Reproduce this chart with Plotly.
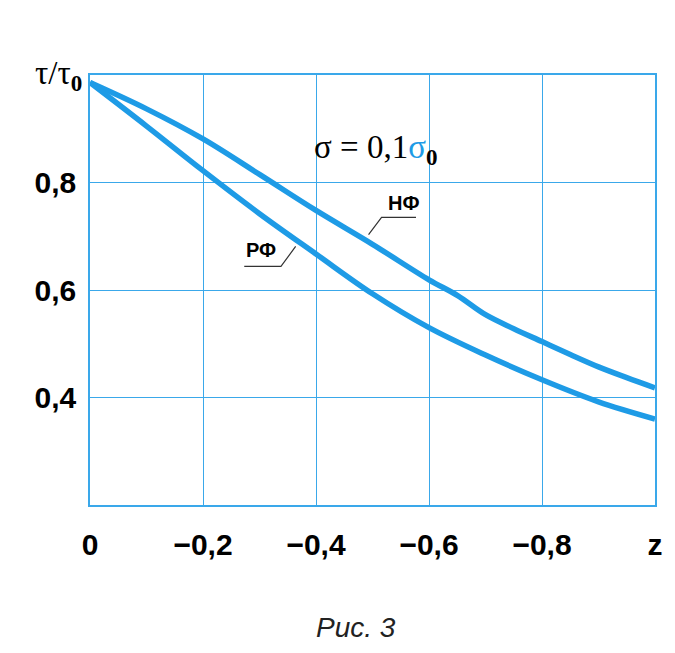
import plotly.graph_objects as go

# data
z_nf = [0, -0.1, -0.2, -0.3, -0.4, -0.5, -0.6, -0.65, -0.7, -0.75, -0.8, -0.85, -0.9, -0.95, -1.0]
nf = [0.986, 0.937, 0.881, 0.815, 0.748, 0.685, 0.619, 0.59, 0.554, 0.528, 0.504, 0.48, 0.457, 0.437, 0.418]
z_rf = [0, -0.1, -0.2, -0.3, -0.4, -0.5, -0.6, -0.7, -0.8, -0.9, -1.0]
rf = [0.986, 0.905, 0.822, 0.742, 0.667, 0.593, 0.53, 0.479, 0.433, 0.392, 0.36]

x_tickvals = [0, -0.2, -0.4, -0.6, -0.8, -1.0]
x_ticktext = ["0", "\u22120,2", "\u22120,4", "\u22120,6", "\u22120,8", "z"]
y_tickvals = [0.4, 0.6, 0.8]
y_ticktext = ["0,4", "0,6", "0,8"]

blue = "#1e9be6"
grid = "#3aa8ea"

fig = go.Figure()
for name, xs, ys in [("НФ", z_nf, nf), ("РФ", z_rf, rf)]:
    fig.add_trace(go.Scatter(x=xs, y=ys, mode="lines", name=name,
                             line=dict(color=blue, width=5.5, shape="spline", smoothing=1.0),
                             showlegend=False))

tickfont = dict(family="Liberation Sans, Arial", size=30, color="black", weight="bold")

# page body has an 8px margin, so offsets are compensated here
fig.update_layout(
    width=667, height=645,
    margin=dict(l=82, r=17, t=67, b=148),
    paper_bgcolor="white", plot_bgcolor="white",
    xaxis=dict(range=[0, -1], tickvals=x_tickvals, ticktext=x_ticktext,
               showgrid=True, gridcolor=grid, gridwidth=1,
               showline=True, linecolor=grid, linewidth=1.5, mirror=True,
               zeroline=False, ticks="outside", ticklen=12, tickcolor="rgba(0,0,0,0)",
               tickfont=tickfont),
    yaxis=dict(range=[0.2, 1.0], tickvals=y_tickvals, ticktext=y_ticktext,
               showgrid=True, gridcolor=grid, gridwidth=1,
               showline=True, linecolor=grid, linewidth=1.5, mirror=True,
               zeroline=False, ticks="outside", ticklen=6, tickcolor="rgba(0,0,0,0)",
               tickfont=tickfont),
)

serif = "Liberation Serif, Times New Roman, serif"

# y-axis title
fig.add_annotation(xref="paper", yref="paper", x=-0.01, y=1.0, xanchor="right", yanchor="middle",
                   text="τ/τ<sub><b>0</b></sub>", showarrow=False,
                   font=dict(family=serif, size=33, color="black"))

# sigma annotation
fig.add_annotation(x=-0.507, y=0.862, xref="x", yref="y",
                   text="σ = 0,1<span style='color:%s'>σ</span><sub><b>0</b></sub>" % blue,
                   showarrow=False, font=dict(family=serif, size=33, color="black"))

# curve labels
lblfont = dict(family="Liberation Sans, Arial", size=20, color="black", weight="bold")
fig.add_annotation(x=-0.555, y=0.762, text="НФ", showarrow=False, font=lblfont)
fig.add_annotation(x=-0.302, y=0.675, text="РФ", showarrow=False, font=lblfont)

# leader lines
fig.add_shape(type="path", xref="x", yref="y",
              path="M -0.493 0.703 L -0.516 0.735 L -0.577 0.735",
              line=dict(color="#333", width=1.2))
fig.add_shape(type="path", xref="x", yref="y",
              path="M -0.364 0.681 L -0.338 0.644 L -0.273 0.644",
              line=dict(color="#333", width=1.2))

# caption
fig.add_annotation(xref="paper", yref="paper", x=0.47, y=-0.285, xanchor="center", yanchor="middle",
                   text="<i>Рис. 3</i>", showarrow=False,
                   font=dict(family="Liberation Sans, Arial", size=28, color="#222"))

fig.write_html("out.html")
